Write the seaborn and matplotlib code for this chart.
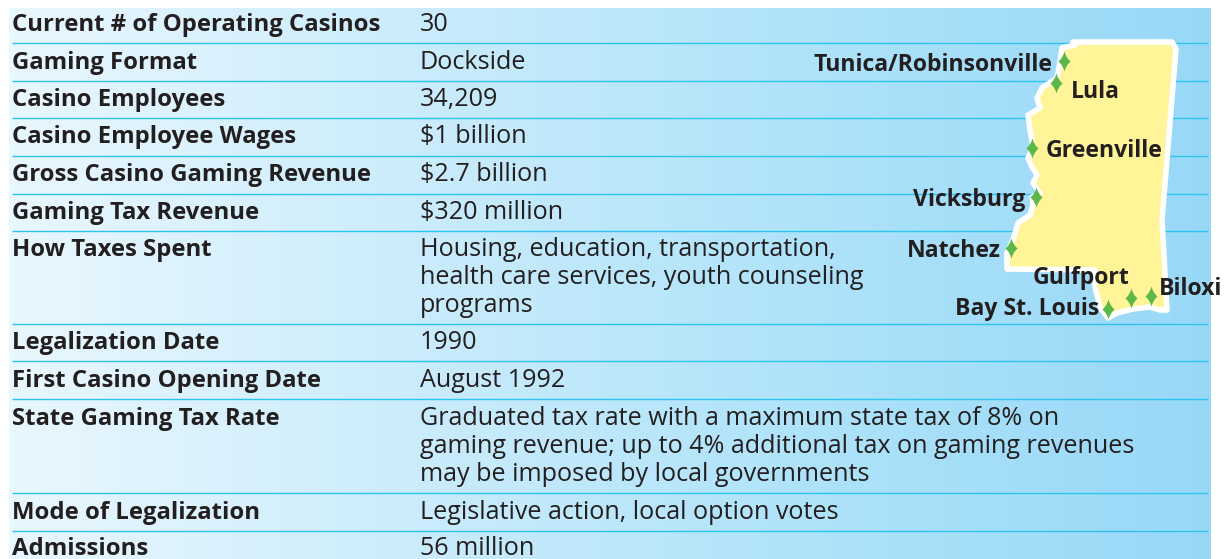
import numpy as np
import matplotlib
matplotlib.use("Agg")
import matplotlib.pyplot as plt
from matplotlib.path import Path
from matplotlib.colors import LinearSegmentedColormap
import pandas as pd
import seaborn as sns

labels = ["Current # of Operating Casinos", "Gaming Format", "Casino Employees",
          "Casino Employee Wages", "Gross Casino Gaming Revenue", "Gaming Tax Revenue",
          "How Taxes Spent", "Legalization Date", "First Casino Opening Date",
          "State Gaming Tax Rate", "Mode of Legalization", "Admissions"]
label_y = [31, 69, 106, 143, 181, 219, 256, 349, 387, 425, 519, 555]
values = ["30", "Dockside", "34,209", "$1 billion", "$2.7 billion", "$320 million",
          "Housing, education, transportation,", "health care services, youth counseling", "programs",
          "1990", "August 1992",
          "Graduated tax rate with a maximum state tax of 8% on",
          "gaming revenue; up to 4% additional tax on gaming revenues",
          "may be imposed by local governments",
          "Legislative action, local option votes", "56 million"]
value_y = [31, 69, 106, 143, 181, 219, 256, 284, 312, 349, 387, 425, 453, 481, 519, 555]
rules_y = [43, 81, 118, 156, 193.5, 231, 324, 361, 399, 493, 531]

map_x = [1073, 1172, 1176, 1162, 1167, 1160, 1150, 1133, 1117, 1108, 1100, 1095, 1095, 1007, 1007,
         1013, 1018, 1030, 1033, 1032, 1040, 1033, 1037, 1032, 1028, 1033, 1030, 1028,
         1040, 1037, 1042, 1057, 1060, 1062, 1075]
map_y = [42, 42, 49, 220, 310, 310, 307, 309, 313, 318, 307, 287, 270, 269, 253,
         240, 223, 215, 205, 197, 193, 183, 175, 167, 158, 147, 130, 115,
         108, 98, 88, 78, 62, 48, 45]

site_names = ["Tunica/Robinsonville", "Lula", "Greenville", "Vicksburg", "Natchez", "Gulfport", "Biloxi", "Bay St. Louis"]
site_label_x = [814, 1071, 1046, 913, 907, 1033, 1159, 955]
site_label_y = [71, 98, 157, 206, 257, 284, 295, 315]
site_x = [1064, 1056, 1032, 1036, 1011, 1131, 1151, 1108]
site_y = [61, 83, 148, 197, 248, 298, 296, 309]

sns.set_theme(style="white")
plt.rcParams["font.family"] = ["Open Sans", "DejaVu Sans"]

fig = plt.figure(figsize=(12.29, 5.59), dpi=100)
ax = fig.add_axes([0, 0, 1, 1])

cmap = LinearSegmentedColormap.from_list("bg", [(0, "#e9f7fe"), (0.37, "#c8ebfb"), (0.66, "#afe3fa"), (1, "#98d8f7")])
ax.imshow(np.linspace(0, 1, 256)[None, :], extent=(9, 1211, 559, 8), cmap=cmap, aspect="auto", zorder=0)

ax.hlines(rules_y, 12, 1208, color="#2cc5f0", lw=1.0, zorder=1)

ax.fill(map_x, map_y, facecolor="#fff498", edgecolor="white", lw=4, joinstyle="round", zorder=2)

star = Path([(0, 1), (0.18, 0.32), (0.62, 0), (0.18, -0.32), (0, -1), (-0.18, -0.32), (-0.62, 0), (-0.18, 0.32), (0, 1)],
            [Path.MOVETO, Path.CURVE3, Path.CURVE3, Path.CURVE3, Path.CURVE3, Path.CURVE3, Path.CURVE3, Path.CURVE3, Path.CURVE3])
sites = pd.DataFrame({"x": site_x, "y": site_y})
sns.scatterplot(data=sites, x="x", y="y", ax=ax, marker=star, s=207, color="#5cb848", linewidth=0, zorder=4, legend=False)
ax.set_xlim(0, 1229)
ax.set_ylim(559, 0)
ax.axis("off")

ink = "#231f20"
for t, y in zip(labels, label_y):
    ax.text(12, y, t, fontsize=17.2, fontweight="bold", color=ink, va="baseline", ha="left", zorder=5)
for t, y in zip(values, value_y):
    ax.text(420, y, t, fontsize=18.1, color=ink, va="baseline", ha="left", zorder=5)
for t, x, y in zip(site_names, site_label_x, site_label_y):
    ax.text(x, y, t, fontsize=16.6, fontweight="bold", color=ink, va="baseline", ha="left", zorder=5)

fig.savefig("out.png", dpi=100, facecolor="white")
